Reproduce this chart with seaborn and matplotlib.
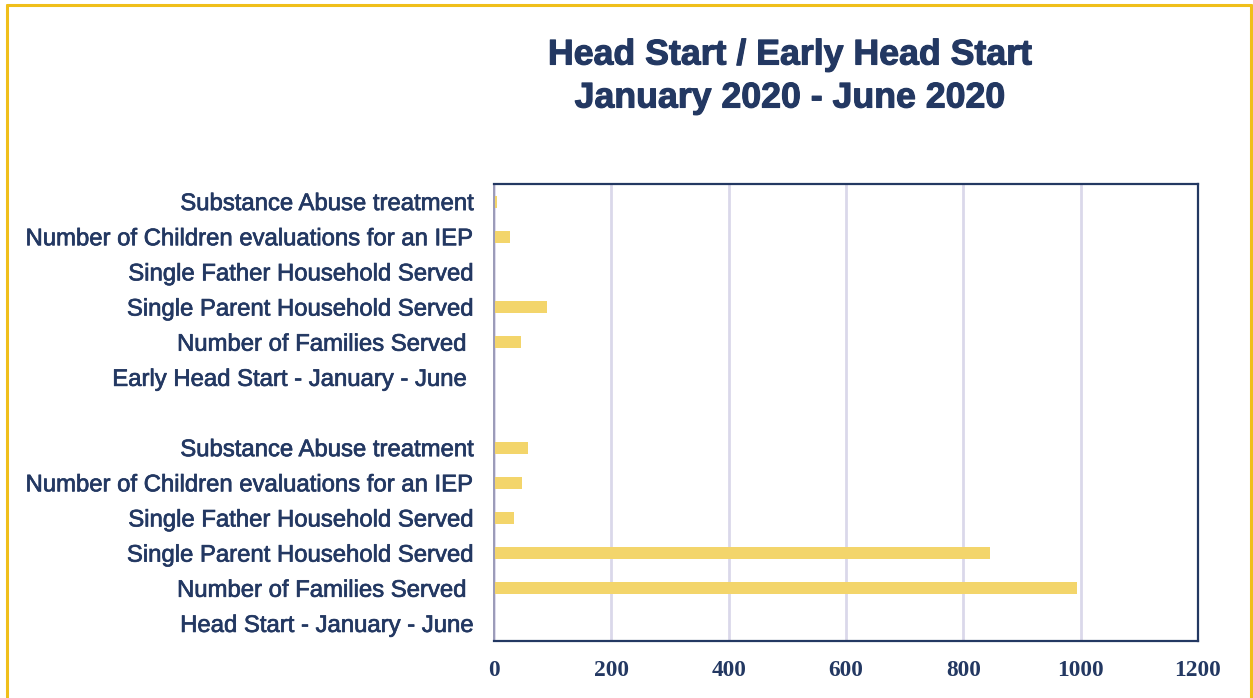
import matplotlib
matplotlib.use("Agg")
import matplotlib.pyplot as plt
from matplotlib.lines import Line2D
import matplotlib.patheffects as pe
import seaborn as sns
import pandas as pd

# ---- data (top to bottom) ----
labels = [
    "Substance Abuse treatment",
    "Number of Children evaluations for an IEP",
    "Single Father Household Served",
    "Single Parent Household Served",
    "Number of Families Served ",
    "Early Head Start - January - June ",
    "",
    "Substance Abuse treatment",
    "Number of Children evaluations for an IEP",
    "Single Father Household Served",
    "Single Parent Household Served",
    "Number of Families Served ",
    "Head Start - January - June",
]
values = [5, 27, 2, 91, 46, 0, 0, 58, 48, 34, 846, 993, 0]
x_ticks = [0, 200, 400, 600, 800, 1000, 1200]
title_lines = ["Head Start / Early Head Start", "January 2020 - June 2020"]

navy = "#233862"
bar_color = "#F3D56B"
grid_color = "#DAD8EA"

sns.set_theme(style="white")
plt.rcParams["font.family"] = ["Liberation Sans", "DejaVu Sans"]

row_ids = [f"r{i}" for i in range(len(labels))]
df = pd.DataFrame({"row": row_ids, "value": values})

fig = plt.figure(figsize=(12.53, 6.98), dpi=100)
ax = fig.add_axes([494 / 1253, 1 - 641 / 698, 704 / 1253, 457 / 698])

sns.barplot(data=df, y="row", x="value", order=row_ids, color=bar_color,
            width=0.34, saturation=1, ax=ax, edgecolor="none")

ax.set_xlim(0, 1200)
ax.set_xticks(x_ticks)
ax.set_xticklabels([str(t) for t in x_ticks], fontfamily="Liberation Serif",
                   fontweight="bold", fontsize=16.8, color=navy)
ax.set_yticks(range(len(labels)))
ax.set_yticklabels(labels, fontsize=17.2, color=navy)
for t in ax.get_yticklabels():
    t.set_path_effects([pe.withStroke(linewidth=0.5, foreground=navy)])
ax.tick_params(axis="y", length=0, pad=15)
ax.tick_params(axis="x", length=0, pad=14)
ax.set_xlabel("")
ax.set_ylabel("")

ax.set_axisbelow(True)
ax.xaxis.grid(True, color=grid_color, linewidth=2)
ax.yaxis.grid(False)

for side in ["top", "bottom", "right"]:
    ax.spines[side].set_visible(True)
    ax.spines[side].set_color(navy)
    ax.spines[side].set_linewidth(1.6)
ax.spines["left"].set_visible(True)
ax.spines["left"].set_color("#9A9AB8")
ax.spines["left"].set_linewidth(1.4)

for line, ypix in zip(title_lines, [55, 98]):
    fig.text(789 / 1253, 1 - ypix / 698, line, ha="center", va="center",
             fontsize=25.7, fontweight="bold", color=navy,
             path_effects=[pe.withStroke(linewidth=0.8, foreground=navy)])

# outer gold border (open at bottom)
gold = "#F0BF1A"
W, H = 1253, 698
fig.add_artist(Line2D([7 / W, 7 / W], [0, 1 - 5 / H], color=gold, lw=2.2,
                      transform=fig.transFigure))
fig.add_artist(Line2D([7 / W, 1251 / W], [1 - 5 / H, 1 - 5 / H], color=gold,
                      lw=2.2, transform=fig.transFigure))
fig.add_artist(Line2D([1251 / W, 1251 / W], [0, 1 - 5 / H], color=gold, lw=2.2,
                      transform=fig.transFigure))

fig.savefig("out.png", dpi=100, facecolor="white")
